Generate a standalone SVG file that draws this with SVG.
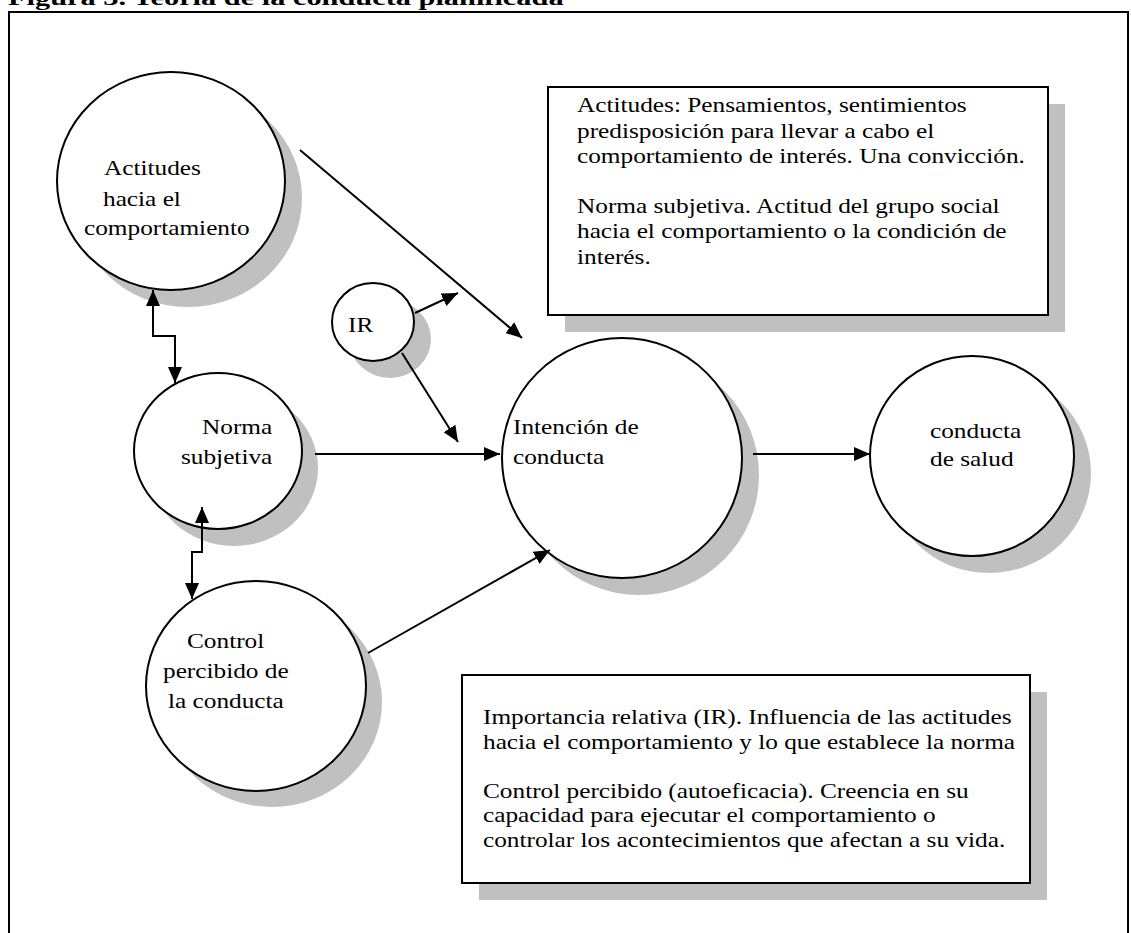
<svg xmlns="http://www.w3.org/2000/svg" width="1131" height="933" viewBox="0 0 1131 933">
<style>
text{font-family:"Liberation Serif","Times New Roman",serif;font-size:22px;fill:#000}
.title{font-weight:bold}
.node{fill:#fff;stroke:#000;stroke-width:2}
.box{fill:#fff;stroke:#000;stroke-width:2}
.sh{fill:#c0c0c0;stroke:none}
.edge{fill:none;stroke:#000;stroke-width:2}
</style>
<defs>
<marker id="a" viewBox="0 0 16 14" refX="16" refY="7" markerWidth="16" markerHeight="14" markerUnits="userSpaceOnUse" orient="auto-start-reverse"><path d="M0,0 L16,7 L0,14 z" fill="#000"/></marker>
</defs>
<rect width="1131" height="933" fill="#fff"/>
<text class="title" transform="translate(8 5) scale(1.38 1)">Figura 3. Teoría de la conducta planificada</text>
<rect x="9" y="12" width="1119" height="930" fill="none" stroke="#000" stroke-width="2"/>
<g id="box1">
<rect class="sh" x="565" y="104" width="500" height="228"/>
<rect class="box" x="548" y="87" width="500" height="228"/>
<text transform="translate(577 112) scale(1.15 1)">Actitudes: Pensamientos, sentimientos</text>
<text transform="translate(577 138) scale(1.15 1)">predisposición para llevar a cabo el</text>
<text transform="translate(577 163) scale(1.15 1)">comportamiento de interés. Una convicción.</text>
<text transform="translate(577 213) scale(1.15 1)">Norma subjetiva. Actitud del grupo social</text>
<text transform="translate(577 238) scale(1.15 1)">hacia el comportamiento o la condición de</text>
<text transform="translate(577 264) scale(1.15 1)">interés.</text>
</g>
<g id="box2">
<rect class="sh" x="479" y="692" width="568" height="208"/>
<rect class="box" x="462" y="675" width="568" height="208"/>
<text transform="translate(483 724) scale(1.15 1)">Importancia relativa (IR). Influencia de las actitudes</text>
<text transform="translate(483 749) scale(1.15 1)">hacia el comportamiento y lo que establece la norma</text>
<text transform="translate(483 798) scale(1.15 1)">Control percibido (autoeficacia). Creencia en su</text>
<text transform="translate(483 822) scale(1.15 1)">capacidad para ejecutar el comportamiento o</text>
<text transform="translate(483 847) scale(1.15 1)">controlar los acontecimientos que afectan a su vida.</text>
</g>
<g id="actitudes">
<ellipse class="sh" cx="188" cy="198" rx="114" ry="109"/>
<ellipse class="node" cx="171" cy="181" rx="114" ry="109"/>
<text transform="translate(104 175) scale(1.15 1)">Actitudes</text>
<text transform="translate(103 206) scale(1.15 1)">hacia el</text>
<text transform="translate(84 235) scale(1.15 1)">comportamiento</text>
</g>
<g id="ir">
<ellipse class="sh" cx="390" cy="339" rx="41" ry="39"/>
<ellipse class="node" cx="373" cy="322" rx="41" ry="39"/>
<text transform="translate(348 332) scale(1.15 1)">IR</text>
</g>
<g id="norma">
<ellipse class="sh" cx="234" cy="468" rx="84" ry="78"/>
<ellipse class="node" cx="218" cy="451" rx="84" ry="78"/>
<text transform="translate(202 434) scale(1.15 1)">Norma</text>
<text transform="translate(181 464) scale(1.15 1)">subjetiva</text>
</g>
<g id="control">
<ellipse class="sh" cx="272" cy="702" rx="110" ry="105"/>
<ellipse class="node" cx="256" cy="686" rx="110" ry="105"/>
<text transform="translate(187 648) scale(1.15 1)">Control</text>
<text transform="translate(163 678) scale(1.15 1)">percibido de</text>
<text transform="translate(168 708) scale(1.15 1)">la conducta</text>
</g>
<g id="intencion">
<ellipse class="sh" cx="639" cy="475" rx="120" ry="120"/>
<ellipse class="node" cx="622" cy="458" rx="120" ry="120"/>
<text transform="translate(513 434) scale(1.15 1)">Intención de</text>
<text transform="translate(513 464) scale(1.15 1)">conducta</text>
</g>
<g id="salud">
<ellipse class="sh" cx="989" cy="473" rx="102" ry="100"/>
<ellipse class="node" cx="972" cy="456" rx="102" ry="100"/>
<text transform="translate(930 438) scale(1.15 1)">conducta</text>
<text transform="translate(930 466) scale(1.15 1)">de salud</text>
</g>
<g id="connectors">
<path class="edge" d="M153,290 V336 H175 V383" marker-start="url(#a)" marker-end="url(#a)"/>
<path class="edge" d="M202,507 V552 H192 V599" marker-start="url(#a)" marker-end="url(#a)"/>
<line class="edge" x1="300" y1="150" x2="522" y2="338" marker-end="url(#a)"/>
<line class="edge" x1="415" y1="313" x2="458" y2="293" marker-end="url(#a)"/>
<line class="edge" x1="402" y1="353" x2="458" y2="442" marker-end="url(#a)"/>
<line class="edge" x1="315" y1="454" x2="500" y2="454" marker-end="url(#a)"/>
<line class="edge" x1="368" y1="653" x2="550" y2="550" marker-end="url(#a)"/>
<line class="edge" x1="753" y1="454" x2="870" y2="454" marker-end="url(#a)"/>
</g>
</svg>
